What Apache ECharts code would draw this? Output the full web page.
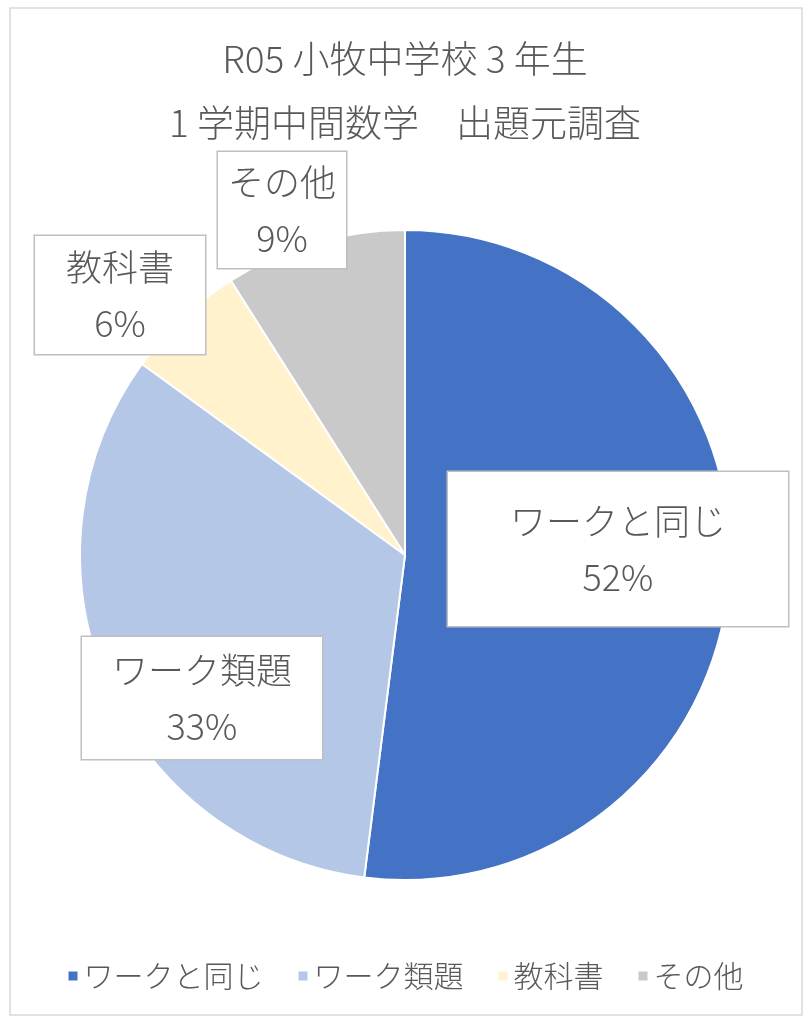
<!DOCTYPE html>
<html>
<head>
<meta charset="utf-8">
<script src="https://cdn.jsdelivr.net/npm/echarts@6/dist/echarts.min.js"></script>
<style>
  html, body { margin: 0; padding: 0; background: #fff; }
  #main { width: 810px; height: 1024px; }
</style>
</head>
<body>
<div id="main"></div>
<script>
// data
var categories = ['ワークと同じ', 'ワーク類題', '教科書', 'その他'];
var values = [52, 33, 6, 9];
var colors = ['#4472C4', '#B4C7E7', '#FFF2CC', '#C9C9C9'];
var titleLines = ['R05 小牧中学校 3 年生', '1 学期中間数学　出題元調査'];

// where each data label box sits (center) and its padding
var labelPos = [[618, 549], [202, 698], [120, 295], [282, 210]];
var labelPad = [[21, 62], [5, 30], [3, 31], [2, 10]];

var font = '"Noto Sans CJK JP", "Noto Sans", sans-serif';
var txtColor = '#595959';

var pieData = [];
for (var i = 0; i < categories.length; i++) {
    pieData.push({
        name: categories[i],
        value: values[i],
        itemStyle: { color: colors[i] },
        label: { padding: labelPad[i] }
    });
}

var myChart = echarts.init(document.getElementById('main'));

var option = {
    backgroundColor: '#fff',
    animation: false,
    title: {
        text: titleLines.join('\n'),
        left: 'center',
        top: 22,
        textStyle: {
            fontFamily: font,
            fontSize: 37,
            fontWeight: 300,
            color: txtColor,
            lineHeight: 64
        }
    },
    legend: {
        bottom: 28,
        left: 'center',
        icon: 'rect',
        itemWidth: 11,
        itemHeight: 11,
        itemGap: 33,
        textStyle: {
            fontFamily: font,
            fontSize: 30,
            fontWeight: 300,
            color: txtColor
        },
        data: categories
    },
    graphic: [{
        type: 'rect',
        shape: { x: 10, y: 8, width: 792, height: 1007 },
        style: { fill: 'none', stroke: '#D9D9D9', lineWidth: 1.5 },
        silent: true
    }],
    series: [{
        type: 'pie',
        center: [405, 555],
        radius: 325,
        startAngle: 90,
        clockwise: true,
        itemStyle: { borderColor: '#fff', borderWidth: 2 },
        label: {
            show: true,
            position: 'inside',
            formatter: '{b}\n{d}%',
            fontFamily: font,
            fontSize: 36,
            fontWeight: 300,
            lineHeight: 56,
            color: txtColor,
            backgroundColor: '#fff',
            borderColor: '#BFBFBF',
            borderWidth: 1.5
        },
        labelLayout: function (params) {
            var p = labelPos[params.dataIndex];
            return { x: p[0], y: p[1], align: 'center', verticalAlign: 'middle' };
        },
        labelLine: { show: false },
        data: pieData
    }]
};

myChart.setOption(option);
</script>
</body>
</html>
